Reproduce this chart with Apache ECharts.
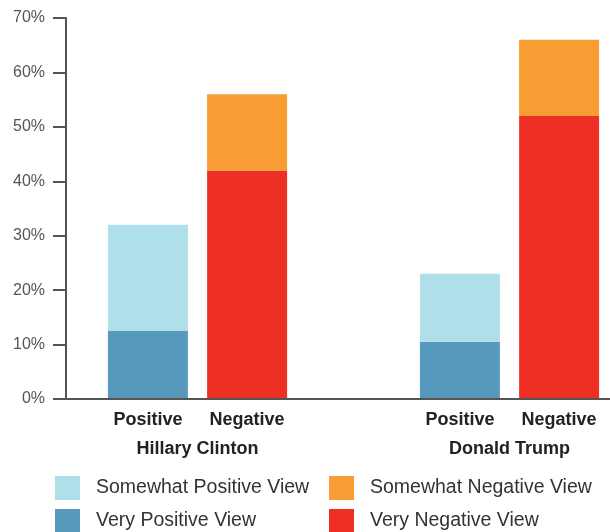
<!DOCTYPE html>
<html>
<head>
<meta charset="utf-8">
<script src="https://cdn.jsdelivr.net/npm/echarts@6/dist/echarts.min.js"></script>
<style>
  html, body { margin: 0; padding: 0; background: #fff; }
  #chart { width: 610px; height: 532px; }
</style>
</head>
<body>
<div id="chart"></div>
<script>
// Share of voters holding each view of the two candidates (percent)
const candidates = ['Hillary Clinton', 'Donald Trump'];
const veryPositive = [12.5, 10.5];
const somewhatPositive = [19.5, 12.5];
const veryNegative = [42, 52];
const somewhatNegative = [14, 14];

// Value axis range and tick step
const yMin = 0;
const yMax = 70;
const yStep = 10;

const FONT = '"Liberation Sans", Arial, sans-serif';
const COLORS = {
  veryPositive: '#5799bd',
  somewhatPositive: '#afdfe9',
  veryNegative: '#ee3024',
  somewhatNegative: '#f89c34'
};

const chart = echarts.init(document.getElementById('chart'), null, { renderer: 'canvas' });

const barLabel = (text) => ({
  show: true,
  position: 'bottom',
  distance: 12,
  formatter: text,
  fontFamily: FONT,
  fontWeight: 'bold',
  fontSize: 18,
  color: '#222'
});

const legendBase = {
  orient: 'vertical',
  top: 471,
  height: 80,
  icon: 'rect',
  itemWidth: 25,
  itemHeight: 24,
  itemGap: 9,
  selectedMode: false,
  textStyle: { fontFamily: FONT, fontSize: 19.5, color: '#333', padding: [0, 0, 0, 11] }
};

chart.setOption({
  animation: false,
  backgroundColor: '#fff',
  textStyle: { fontFamily: FONT },
  grid: [
    // frame holding the visible axes
    { left: 66, right: 0, top: 18, bottom: 133, outerBoundsMode: 'none' },
    // bars, one band per candidate (extends past the right edge)
    { left: 41.5, right: -55.5, top: 18, bottom: 133, outerBoundsMode: 'none' }
  ],
  xAxis: [
    {
      gridIndex: 0, type: 'value', min: 0, max: 1, z: 5,
      axisLine: { show: true, lineStyle: { color: '#555', width: 2 } },
      axisTick: { show: false }, axisLabel: { show: false }, splitLine: { show: false }
    },
    {
      gridIndex: 1, type: 'category', data: candidates,
      axisLine: { show: false }, axisTick: { show: false }, splitLine: { show: false },
      axisLabel: { margin: 41, fontFamily: FONT, fontWeight: 'bold', fontSize: 18, color: '#222' }
    }
  ],
  yAxis: [
    {
      gridIndex: 0, type: 'value', min: yMin, max: yMax, interval: yStep, z: 5,
      axisLine: { show: true, lineStyle: { color: '#555', width: 2 } },
      axisTick: { show: true, length: 13, lineStyle: { color: '#555', width: 2 } },
      splitLine: { show: false },
      axisLabel: { formatter: '{value}%', margin: 21, fontFamily: FONT, fontSize: 16, color: '#555' }
    },
    { gridIndex: 1, type: 'value', min: yMin, max: yMax, show: false }
  ],
  legend: [
    Object.assign({}, legendBase, { left: 50, data: ['Somewhat Positive View', 'Very Positive View'] }),
    Object.assign({}, legendBase, { left: 324, data: ['Somewhat Negative View', 'Very Negative View'] })
  ],
  series: [
    {
      name: 'Very Positive View', type: 'bar', stack: 'positive',
      xAxisIndex: 1, yAxisIndex: 1, barWidth: 80, barGap: '24%',
      data: veryPositive, itemStyle: { color: COLORS.veryPositive },
      label: barLabel('Positive')
    },
    {
      name: 'Somewhat Positive View', type: 'bar', stack: 'positive',
      xAxisIndex: 1, yAxisIndex: 1, barWidth: 80, barGap: '24%',
      data: somewhatPositive, itemStyle: { color: COLORS.somewhatPositive }
    },
    {
      name: 'Very Negative View', type: 'bar', stack: 'negative',
      xAxisIndex: 1, yAxisIndex: 1, barWidth: 80, barGap: '24%',
      data: veryNegative, itemStyle: { color: COLORS.veryNegative },
      label: barLabel('Negative')
    },
    {
      name: 'Somewhat Negative View', type: 'bar', stack: 'negative',
      xAxisIndex: 1, yAxisIndex: 1, barWidth: 80, barGap: '24%',
      data: somewhatNegative, itemStyle: { color: COLORS.somewhatNegative }
    }
  ]
});
</script>
</body>
</html>
